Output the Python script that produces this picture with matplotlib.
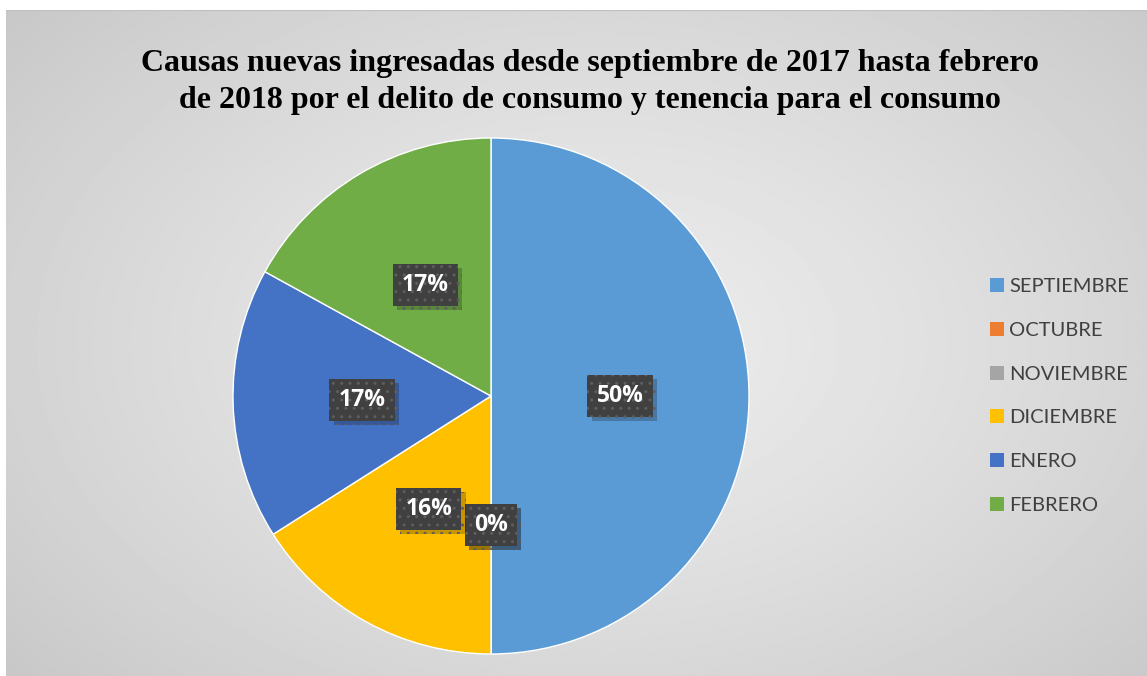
import matplotlib.pyplot as plt
import matplotlib.patheffects as pe
import numpy as np
from matplotlib.patches import Patch

# Dati del grafico
meses = ["SEPTIEMBRE", "OCTUBRE", "NOVIEMBRE", "DICIEMBRE", "ENERO", "FEBRERO"]
porcentajes = [50, 0, 0, 16, 17, 17]
colores = ["#5B9BD5", "#ED7D31", "#A5A5A5", "#FFC000", "#4472C4", "#70AD47"]
titulo = ("Causas nuevas ingresadas desde septiembre de 2017 hasta febrero\n"
          "de 2018 por el delito de consumo y tenencia para el consumo")

W, H = 1147, 676
fig = plt.figure(figsize=(W / 100, H / 100), dpi=100)
fig.patch.set_facecolor("white")

# Sfondo con gradiente radiale grigio
bg = fig.add_axes([6 / W, 0, 1 - 6 / W, 1 - 10 / H])
yy, xx = np.mgrid[0:1:300j, 0:1:500j]
d = np.sqrt(((xx - 0.52) / 0.75) ** 2 + ((yy - 0.5) / 0.85) ** 2)
grad = 0.925 - 0.16 * np.clip(d, 0, 1) ** 1.3
bg.imshow(grad, cmap="gray", vmin=0, vmax=1, aspect="auto", extent=[0, 1, 0, 1])
bg.axhline(1, color="#bfbfbf", lw=1.5)
bg.set_axis_off()

# Torta
cx, cy, r = 491, 396, 258
ax = fig.add_axes([(cx - r) / W, (H - cy - r) / H, 2 * r / W, 2 * r / H])
wedges, texts, autotexts = ax.pie(
    porcentajes,
    colors=colores,
    startangle=90,
    counterclock=False,
    autopct="%.0f%%",
    pctdistance=0.5,
    wedgeprops=dict(edgecolor="white", linewidth=1),
    textprops=dict(color="white", fontsize=16.5, fontweight="bold", family="Open Sans"),
)
ax.set_xlim(-1, 1)
ax.set_ylim(-1, 1)
ax.set_aspect("equal")

for t in autotexts:
    t.set_bbox(dict(boxstyle="square,pad=0.4", facecolor="#404040",
                    edgecolor="#5e5e5e", linewidth=0, hatch=".."))
    t.get_bbox_patch().set_path_effects(
        [pe.SimplePatchShadow(offset=(3, -3), shadow_rgbFace="black", alpha=0.22), pe.Normal()])

# Titolo
fig.text(590 / W, 1 - 82 / H, titulo, ha="center", va="center",
         fontsize=23, fontweight="bold", family="Liberation Serif",
         color="black", linespacing=1.32)

# Legenda
handles = [Patch(facecolor=c, label=m) for m, c in zip(meses, colores)]
fig.legend(handles=handles, loc="center left", bbox_to_anchor=(972 / W, 1 - 396 / H),
           frameon=False, prop=dict(family="Lato", size=14.5), labelcolor="#404040",
           handlelength=0.7, handleheight=0.7, handletextpad=0.25, labelspacing=1.33)

fig.savefig("out.png", dpi=100)
